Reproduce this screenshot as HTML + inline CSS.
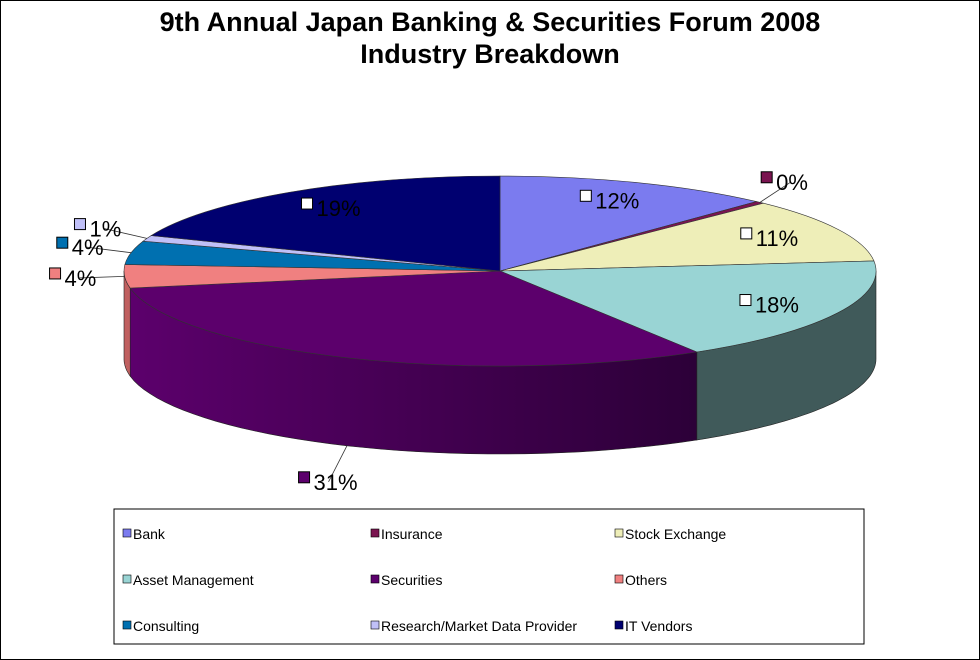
<!DOCTYPE html>
<html><head><meta charset="utf-8"><style>
body{margin:0;background:#fff}
#wrap{position:relative;width:978px;height:658px;border:1px solid #000;background:#fff;overflow:hidden}
.title{position:absolute;left:0;width:978px;text-align:center;font:bold 27px "Liberation Sans",sans-serif;color:#000;line-height:32px}
svg text{font-family:"Liberation Sans","Noto Sans CJK JP",sans-serif}
</style></head><body>
<div id="wrap">
<div class="title" style="top:5px">9th Annual Japan Banking &amp; Securities Forum 2008<br>Industry Breakdown</div>
<svg id="chart" width="978" height="658" style="position:absolute;left:0;top:0"></svg>
</div>
<script>
const categories=["Bank","Insurance","Stock Exchange","Asset Management","Securities","Others","Consulting","Research/Market Data Provider","IT Vendors"];
const values=[12,0.4,11,18,31,4,4,1,19];
const valueLabels=["12%","0%","11%","18%","31%","4%","4%","1%","19%"];
const colors=["#7b7bef","#7a1450","#eeeeb8","#99d4d4","#5c006c","#f08080","#0070b0","#c0c0f8","#000070"];
const sideColors=["#4a4a90","#4a0c30","#8f8f6e","#405a5a","#3a0045","#c06060","#00486e","#7878a0","#000048"];
const outside=[false,true,false,false,true,true,true,true,false];

const svg=document.getElementById('chart');
const NS="http://www.w3.org/2000/svg";
const cx=499,cy=270,rx=376,ry=95,depth=88;
function mk(t,a){const e=document.createElementNS(NS,t);for(const k in a)e.setAttribute(k,a[k]);svg.appendChild(e);return e;}
function pt(a,r=1){return [cx+rx*r*Math.sin(a),cy-ry*r*Math.cos(a)];}
const total=values.reduce((s,v)=>s+v,0);
const starts=[];let acc=0;
values.forEach(v=>{starts.push(acc/total*2*Math.PI);acc+=v;});
const ends=values.map((v,i)=>starts[i]+v/total*2*Math.PI);

// gradient for securities side
const defs=mk('defs',{});
const g=document.createElementNS(NS,'linearGradient');g.setAttribute('id','secg');
g.innerHTML='<stop offset="0" stop-color="#5c006c"/><stop offset="1" stop-color="#2c0038"/>';defs.appendChild(g);

// side walls (front half: angle PI/2 .. 3PI/2)
function arcPts(a1,a2,dy){const p=[];const n=40;for(let k=0;k<=n;k++){const a=a1+(a2-a1)*k/n;const q=pt(a);p.push([q[0],q[1]+dy]);}return p;}
values.forEach((v,i)=>{
  const a1=Math.max(starts[i],Math.PI/2),a2=Math.min(ends[i],3*Math.PI/2);
  if(a2<=a1)return;
  const top=arcPts(a1,a2,0),bot=arcPts(a2,a1,depth);
  const d='M'+top.concat(bot).map(p=>p[0].toFixed(1)+','+p[1].toFixed(1)).join(' L')+'Z';
  const e=mk('path',{d,fill:i===4?'url(#secg)':sideColors[i],stroke:'#222','stroke-width':0.6});
  
  
});
// top faces
values.forEach((v,i)=>{
  const p1=pt(starts[i]),p2=pt(ends[i]);
  const large=(ends[i]-starts[i])>Math.PI?1:0;
  const d=`M${cx},${cy} L${p1[0].toFixed(1)},${p1[1].toFixed(1)} A${rx},${ry} 0 ${large} 1 ${p2[0].toFixed(1)},${p2[1].toFixed(1)} Z`;
  const e=mk('path',{d,fill:colors[i],stroke:'#333','stroke-width':0.6});
  
  
});
// labels
values.forEach((v,i)=>{
  const m=(starts[i]+ends[i])/2;
  let x,y;
  if(outside[i]){
    x=cx+rx*1.12*Math.sin(m);y=cy-ry*1.3*Math.cos(m);
    const front=Math.cos(m)<-0.5;
    if(front)y+=depth+10;
    const e0=pt(m);const ey=e0[1]+(front?depth:0);
    const l=mk('line',{x1:e0[0],y1:ey,x2:x,y2:y,stroke:'#333','stroke-width':0.8});
    
    
  }else{
    const q=pt(m,0.8);x=q[0];y=q[1];
  }
  const r=mk('rect',{x:x-30,y:y-10,width:11,height:11,fill:outside[i]?colors[i]:'#fff',stroke:'#000','stroke-width':1});
  
  
  const t=mk('text',{x:x-15,y:y+8,'font-size':22,fill:'#000'});
  t.textContent=valueLabels[i];
  
  
});
// legend
const lb=mk('rect',{x:113,y:508,width:750,height:135,fill:'#fff',stroke:'#000','stroke-width':1});


categories.forEach((c,i)=>{
  const col=i%3,row=Math.floor(i/3);
  const x=[122,370,614][col],y=529+row*46;
  const s=mk('rect',{x:x,y:y-1,width:8,height:8,fill:colors[i],stroke:'#000','stroke-width':0.6});
  
  
  const t=mk('text',{x:x+10,y:y+9,'font-size':14,fill:'#000'});
  t.textContent=c;
  
  
});
</script>
</body></html>
